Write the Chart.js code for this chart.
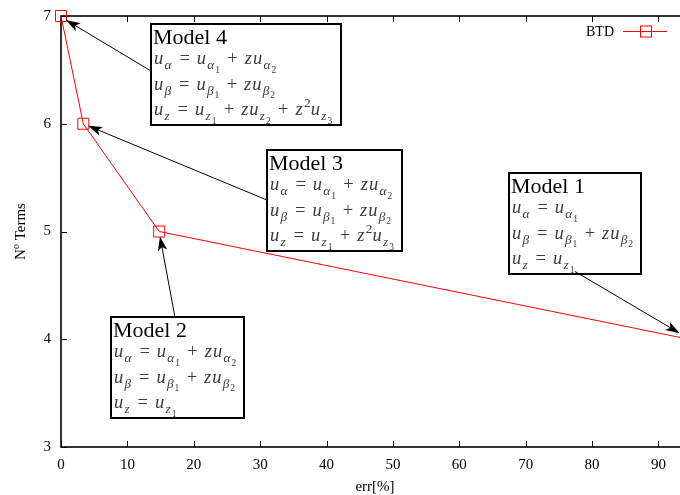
<!DOCTYPE html>
<html><head><meta charset="utf-8">
<script src="https://cdn.jsdelivr.net/npm/chart.js@4/dist/chart.umd.min.js"></script>
<style>html,body{margin:0;padding:0;overflow:hidden;background:#fff}
#wrap{position:relative;width:700px;height:495px;overflow:hidden}
#c{position:absolute;left:0;top:-3px}</style>
</head><body><div id="wrap"><canvas id="c" width="700" height="498"></canvas></div>
<script>
// ---- data ----
const seriesLabel = 'BTD';
const errValues = [0, 3.36, 14.8, 94.6];
const termValues = [7, 6, 5, 4];
const xTicks = [0, 10, 20, 30, 40, 50, 60, 70, 80, 90];
const yTicks = [3, 4, 5, 6, 7];
const xTitle = 'err[%]';
const yTitleMain = 'N', yTitleSup = 'o', yTitleRest = ' Terms';
const modelTitles = ['Model 1', 'Model 2', 'Model 3', 'Model 4'];
const modelEquations = [
  ['u_{α} = u_{α_1}', 'u_{β} = u_{β_1} + zu_{β_2}', 'u_{z} = u_{z_1}'],
  ['u_{α} = u_{α_1} + zu_{α_2}', 'u_{β} = u_{β_1} + zu_{β_2}', 'u_{z} = u_{z_1}'],
  ['u_{α} = u_{α_1} + zu_{α_2}', 'u_{β} = u_{β_1} + zu_{β_2}', 'u_{z} = u_{z_1} + z^{2}u_{z_3}'],
  ['u_{α} = u_{α_1} + zu_{α_2}', 'u_{β} = u_{β_1} + zu_{β_2}', 'u_{z} = u_{z_1} + zu_{z_2} + z^{2}u_{z_3}']
];
// label box top-left anchors (data units)
const boxX = [67.5, 7.53, 31.0, 13.55];
const boxY = [5.546, 4.204, 5.759, 6.926];
// arrows (data units)
const arrowFromX = [77.4, 17.17, 30.87, 13.55];
const arrowFromY = [4.63, 4.204, 5.296, 6.49];
const arrowToX = [93.2, 14.91, 4.07, 0.75];
const arrowToY = [4.056, 4.954, 5.981, 6.963];

const SERIF = '"Liberation Serif", "Times New Roman", serif';
const MATH = 18.5;

function parseMath(s) {
  let i = 0;
  function group() {
    const out = [];
    while (i < s.length) {
      const c = s[i];
      if (c === '}') { i++; return out; }
      if (c === '_' || c === '^') {
        i++;
        let kids;
        if (s[i] === '{') { i++; kids = group(); } else { kids = [{ t: s[i] }]; i++; }
        out.push({ k: c, kids });
        continue;
      }
      out.push({ t: c }); i++;
    }
    return out;
  }
  return group();
}
function drawMath(ctx, nodes, x, y, size, draw) {
  let cx = x;
  for (const n of nodes) {
    if (n.t !== undefined) {
      if (n.t === ' ') { cx += size * 0.27; continue; }
      const italic = /[a-zA-Zα-ω]/.test(n.t);
      ctx.font = (italic ? 'italic ' : '') + size + 'px ' + SERIF;
      const w = ctx.measureText(n.t).width;
      if (n.t === '=' || n.t === '+') {
        const box = size * 0.78;
        if (draw) ctx.fillText(n.t, cx + (box - w) / 2, y);
        cx += box;
      } else {
        if (draw) ctx.fillText(n.t, cx, y);
        cx += w + (italic ? size * 0.05 : 0);
      }
    } else {
      const s2 = size * 0.72;
      const dy = n.k === '_' ? size * 0.28 : -size * 0.45;
      cx += drawMath(ctx, n.kids, cx + size * 0.02, y + dy, s2, draw) + size * 0.03;
    }
  }
  return cx - x;
}
function arrow(ctx, x0, y0, x1, y1) {
  const a = Math.atan2(y1 - y0, x1 - x0);
  const L = 15, h = 0.32;
  ctx.beginPath(); ctx.moveTo(x0, y0); ctx.lineTo(x1 - Math.cos(a) * 6, y1 - Math.sin(a) * 6); ctx.stroke();
  ctx.beginPath();
  ctx.moveTo(x1, y1);
  ctx.lineTo(x1 - L * Math.cos(a - h), y1 - L * Math.sin(a - h));
  ctx.lineTo(x1 - L * 0.72 * Math.cos(a), y1 - L * 0.72 * Math.sin(a));
  ctx.lineTo(x1 - L * Math.cos(a + h), y1 - L * Math.sin(a + h));
  ctx.closePath(); ctx.fill();
}

const framePlugin = {
  id: 'frame',
  beforeDatasetsDraw(chart) {
    const { ctx, chartArea: a, scales } = chart;
    ctx.save();
    ctx.strokeStyle = '#000';
    ctx.lineWidth = 1;
    for (const v of xTicks) {
      const px = Math.round(scales.x.getPixelForValue(v)) + 0.5;
      ctx.beginPath(); ctx.moveTo(px, a.bottom); ctx.lineTo(px, a.bottom - 6);
      ctx.moveTo(px, a.top); ctx.lineTo(px, a.top + 6); ctx.stroke();
    }
    for (const v of yTicks) {
      const py = Math.round(scales.y.getPixelForValue(v)) + 0.5;
      ctx.beginPath(); ctx.moveTo(a.left, py); ctx.lineTo(a.left + 6, py);
      ctx.moveTo(a.right, py); ctx.lineTo(a.right - 6, py); ctx.stroke();
    }
    ctx.lineWidth = 1.6;
    ctx.strokeRect(a.left, a.top, a.right - a.left, a.bottom - a.top);
    ctx.restore();
  },
  afterDraw(chart) {
    const { ctx, chartArea: a, scales } = chart;
    const ds = chart.data.datasets[0];
    ctx.save();
    // axis titles
    ctx.fillStyle = '#000';
    ctx.font = '15px ' + SERIF;
    ctx.textAlign = 'center'; ctx.textBaseline = 'alphabetic';
    ctx.fillText(xTitle, (a.left + a.right) / 2, a.bottom + 44);
    ctx.save();
    ctx.translate(25, (a.top + a.bottom) / 2);
    ctx.rotate(-Math.PI / 2);
    ctx.font = '15px ' + SERIF;
    const w1 = ctx.measureText(yTitleMain).width;
    const w3 = ctx.measureText(yTitleRest).width;
    ctx.font = '10px ' + SERIF;
    const w2 = ctx.measureText(yTitleSup).width;
    const tot = w1 + w2 + w3;
    ctx.textAlign = 'left';
    ctx.font = '15px ' + SERIF;
    ctx.fillText(yTitleMain, -tot / 2, 0);
    ctx.fillText(yTitleRest, -tot / 2 + w1 + w2, 0);
    ctx.font = '10px ' + SERIF;
    ctx.fillText(yTitleSup, -tot / 2 + w1, -6);
    ctx.restore();

    // legend
    const ly = a.top + 15.5;
    ctx.font = '14px ' + SERIF;
    ctx.textAlign = 'right'; ctx.textBaseline = 'middle';
    ctx.fillText(ds.label, a.right - 75, ly + 1);
    ctx.strokeStyle = ds.borderColor; ctx.lineWidth = 1;
    ctx.beginPath(); ctx.moveTo(a.right - 66, ly); ctx.lineTo(a.right - 22, ly); ctx.stroke();
    ctx.strokeRect(a.right - 48.5, ly - 5.5, 11, 11);

    // annotation boxes
    for (let k = 0; k < modelTitles.length; k++) {
      const bx = Math.round(scales.x.getPixelForValue(boxX[k]));
      const by = Math.round(scales.y.getPixelForValue(boxY[k]));
      const lines = modelEquations[k].map(parseMath);
      let maxW = 0;
      ctx.textAlign = 'left'; ctx.textBaseline = 'alphabetic';
      ctx.font = '22px ' + SERIF;
      maxW = ctx.measureText(modelTitles[k]).width;
      for (const l of lines) maxW = Math.max(maxW, drawMath(ctx, l, 0, 0, MATH, false));
      const bw = Math.round(maxW + 11);
      const titleY = by + 20;
      const firstY = titleY + 20;
      const step = 25.5;
      const bh = Math.round(firstY + step * (lines.length - 1) + 10 - by);
      ctx.fillStyle = '#fff';
      ctx.fillRect(bx, by, bw, bh);
      ctx.strokeStyle = '#000'; ctx.lineWidth = 2;
      ctx.strokeRect(bx, by, bw, bh);
      ctx.fillStyle = '#000';
      ctx.font = '22px ' + SERIF;
      ctx.fillText(modelTitles[k], bx + 2, titleY);
      ctx.fillStyle = '#3c3c3c';
      lines.forEach((l, j) => drawMath(ctx, l, bx + 3, firstY + j * step, MATH, true));
    }
    // arrows
    ctx.strokeStyle = '#000'; ctx.fillStyle = '#000'; ctx.lineWidth = 1;
    for (let k = 0; k < arrowFromX.length; k++) {
      arrow(ctx,
        scales.x.getPixelForValue(arrowFromX[k]), scales.y.getPixelForValue(arrowFromY[k]),
        scales.x.getPixelForValue(arrowToX[k]), scales.y.getPixelForValue(arrowToY[k]));
    }
    ctx.restore();
  }
};

new Chart(document.getElementById('c'), {
  type: 'line',
  data: {
    datasets: [{
      label: seriesLabel,
      data: errValues.map((x, i) => ({ x, y: termValues[i] })),
      borderColor: '#ff0000',
      borderWidth: 1,
      pointStyle: 'rect',
      pointRadius: 7.8,
      pointBorderColor: '#ff0000',
      pointBackgroundColor: 'rgba(0,0,0,0)',
      pointBorderWidth: 1,
      tension: 0,
      clip: false
    }]
  },
  options: {
    responsive: false,
    animation: false,
    devicePixelRatio: 1,
    layout: { padding: { left: 0, top: 12, right: 11, bottom: 0 } },
    plugins: { legend: { display: false }, tooltip: { enabled: false } },
    scales: {
      x: {
        type: 'linear', min: 0, max: errValues[errValues.length - 1],
        afterBuildTicks: s => { s.ticks = xTicks.map(v => ({ value: v })); },
        afterFit: s => { s.height = 48; },
        grid: { display: false, drawTicks: false },
        border: { display: false },
        ticks: { padding: 9, color: '#000', autoSkip: false, maxRotation: 0, font: { family: SERIF, size: 15 } }
      },
      y: {
        type: 'linear', min: 3, max: 7,
        afterBuildTicks: s => { s.ticks = yTicks.map(v => ({ value: v })); },
        afterFit: s => { s.width = 61; },
        grid: { display: false, drawTicks: false },
        border: { display: false },
        ticks: { padding: 10, color: '#000', font: { family: SERIF, size: 15 } }
      }
    }
  },
  plugins: [framePlugin]
});
</script></body></html>
